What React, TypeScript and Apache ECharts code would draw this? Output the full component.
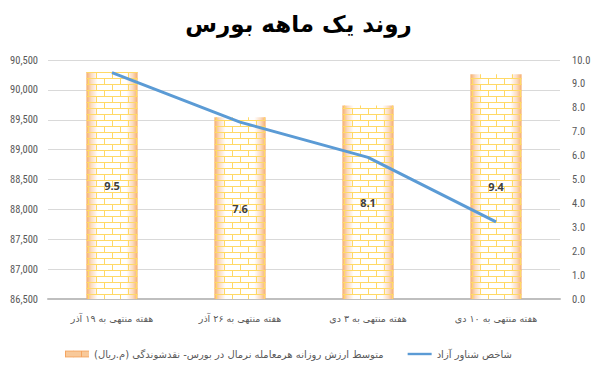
import React, { useEffect, useRef } from "react";
import * as echarts from "echarts";

const titleText = "روند یک ماهه بورس";
const categories = [
  "هفته منتهی به ۱۹ آذر",
  "هفته منتهی به ۲۶ آذر",
  "هفته منتهی به ۳ دی",
  "هفته منتهی به ۱۰ دی",
];
const barName = "\u200Fمتوسط ارزش روزانه هرمعامله نرمال در بورس- نقدشوندگی (م.ریال)\u200F";
const lineName = "\u200Fشاخص شناور آزاد\u200F";
const barValues = [9.5, 7.6, 8.1, 9.4];
const lineValues = [90290, 89460, 88870, 87790];

function makeBrick(bg: string | null, line: string) {
  const c = document.createElement("canvas");
  c.width = 16;
  c.height = 12;
  const ctx = c.getContext("2d")!;
  if (bg) {
    ctx.fillStyle = bg;
    ctx.fillRect(0, 0, 16, 12);
  }
  ctx.fillStyle = line;
  ctx.fillRect(0, 0, 16, 1);
  ctx.fillRect(0, 6, 16, 1);
  ctx.fillRect(0, 0, 1, 6);
  ctx.fillRect(8, 6, 1, 6);
  return c;
}

export default function App() {
  const ref = useRef<HTMLDivElement>(null);
  useEffect(() => {
    const chart = echarts.init(ref.current!, null, { renderer: "svg" });
    const brick = makeBrick(null, "#FFD966");
    const brickLegend = makeBrick("#F8C99A", "#F4A460");
    const numFont = "'Liberation Sans Narrow', 'Roboto Condensed', Roboto, sans-serif";
    chart.setOption({
      animation: false,
      title: {
        text: titleText,
        left: "center",
        top: 7,
        textStyle: {
          fontFamily: "'DejaVu Sans', sans-serif",
          fontWeight: "bold",
          fontSize: 23,
          color: "#000",
        },
      },
      legend: {
        left: 60,
        top: 344,
        itemWidth: 24,
        itemHeight: 7,
        itemGap: 24,
        textStyle: { fontFamily: "'DejaVu Sans', sans-serif", fontSize: 10, color: "#595959" },
        data: [
          {
            name: barName,
            icon: "rect",
            itemStyle: { color: { image: brickLegend, repeat: "repeat" } as any },
          },
          { name: lineName, icon: "path://M0,3L25,3L25,5.5L0,5.5Z", itemStyle: { color: "#5B9BD5" } },
        ],
      },
      grid: { left: 48, right: 37, top: 60, bottom: 70 },
      xAxis: {
        type: "category",
        data: categories,
        axisLine: { lineStyle: { color: "#BFBFBF", width: 2 } },
        axisTick: { show: false },
        axisLabel: {
          fontFamily: "'DejaVu Sans', sans-serif",
          fontSize: 9.5,
          color: "#595959",
          margin: 14,
          interval: 0,
        },
      },
      yAxis: [
        {
          type: "value",
          min: 86500,
          max: 90500,
          interval: 500,
          axisLine: { show: false },
          axisTick: { show: false },
          splitLine: { lineStyle: { color: "#D9D9D9" } },
          axisLabel: {
            fontFamily: numFont,
            fontSize: 10.5,
            color: "#595959",
            margin: 10,
            formatter: (v: number) => v.toLocaleString("en-US"),
          },
        },
        {
          type: "value",
          min: 0,
          max: 10,
          interval: 1,
          axisLine: { show: false },
          axisTick: { show: false },
          splitLine: { show: false },
          axisLabel: {
            fontFamily: numFont,
            fontSize: 10.5,
            color: "#595959",
            margin: 12,
            formatter: (v: number) => v.toFixed(1),
          },
        },
      ],
      series: [
        {
          type: "bar",
          name: "bg",
          yAxisIndex: 1,
          data: barValues,
          barWidth: "40%",
          silent: true,
          itemStyle: {
            color: {
              type: "linear",
              x: 0,
              y: 0,
              x2: 1,
              y2: 0,
              colorStops: [
                { offset: 0, color: "#F6AE6E" },
                { offset: 0.1, color: "#FBDCC2" },
                { offset: 0.22, color: "#FFFFFF" },
                { offset: 0.78, color: "#FFFFFF" },
                { offset: 0.9, color: "#FBDCC2" },
                { offset: 1, color: "#F6AE6E" },
              ],
            },
          },
        },
        {
          type: "bar",
          name: barName,
          yAxisIndex: 1,
          data: barValues,
          barWidth: "40%",
          barGap: "-100%",
          itemStyle: { color: { image: brick, repeat: "repeat" } as any },
          label: {
            show: true,
            position: "inside",
            color: "#404040",
            fontWeight: "bold",
            fontSize: 11,
            fontFamily: "'Open Sans', sans-serif",
            formatter: (p: any) => p.value.toFixed(1),
          },
        },
        {
          type: "line",
          name: lineName,
          yAxisIndex: 0,
          data: lineValues,
          symbol: "none",
          lineStyle: { color: "#5B9BD5", width: 3 },
          itemStyle: { color: "#5B9BD5" },
        },
      ],
    });
    return () => chart.dispose();
  }, []);
  return <div ref={ref} style={{ width: 597, height: 369, position: "absolute", left: 0, top: 0 }} />;
}
